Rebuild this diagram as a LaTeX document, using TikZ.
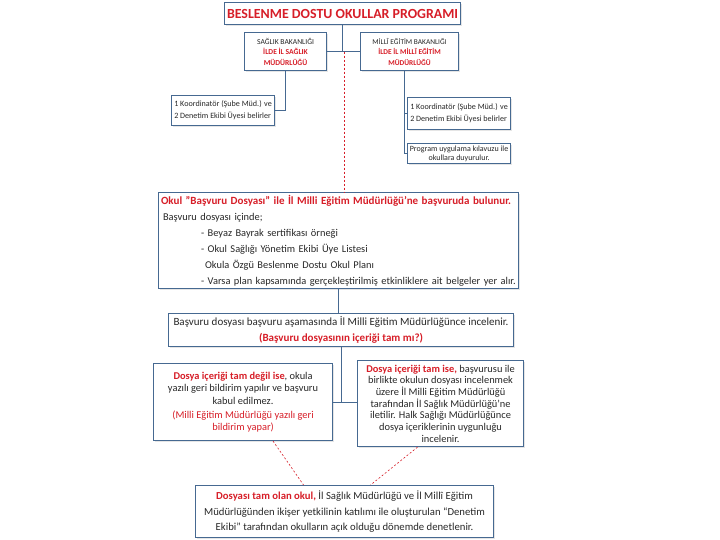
\documentclass[tikz,border=0pt]{standalone}
\usepackage{fontspec}
\setmainfont{Carlito}
\usetikzlibrary{shadows}
\definecolor{bdoBlue}{RGB}{70,105,145}
\definecolor{bdoRed}{RGB}{215,30,40}
\definecolor{bdoText}{RGB}{40,40,40}
\newcommand{\rd}[1]{\textcolor{bdoRed}{\textbf{#1}}}
\newcommand{\fs}[2]{\fontsize{#1}{#2}\selectfont}
\tikzset{
  box/.style={draw=bdoBlue, line width=1.1pt, fill=white, inner sep=2pt, text=bdoText,
    drop shadow={opacity=0.2, shadow xshift=1.2pt, shadow yshift=-1.2pt}},
  link/.style={draw=bdoBlue, line width=1.1pt},
  redlink/.style={draw=bdoRed, line width=0.6pt, dash pattern=on 2pt off 2pt},
}
\begin{document}
\begin{tikzpicture}[x=1pt,y=-1pt]
  \useasboundingbox[fill=white] (0,0) rectangle (720,540);

  \node[box, anchor=north west, minimum width=236, minimum height=22, font=\fs{13.9}{16}]
    (title) at (224,2) {\rd{BESLENME DOSTU OKULLAR PROGRAMI}};

  \node[box, anchor=north west, minimum width=82, minimum height=38, align=center, font=\fs{7.6}{10.5}]
    (sb) at (244,32) {SAĞLIK BAKANLIĞI\\\rd{İLDE İL SAĞLIK}\\\rd{MÜDÜRLÜĞÜ}};
  \node[box, anchor=north west, minimum width=98, minimum height=38, align=center, font=\fs{7.4}{10.5}]
    (meb) at (360,32) {MİLLÎ EĞİTİM BAKANLIĞI\\\rd{İLDE İL MİLLÎ EĞİTİM}\\\rd{MÜDÜRLÜĞÜ}};

  \node[box, anchor=north west, minimum width=103, minimum height=30, align=left, font=\fs{8.1}{12}]
    (sbk) at (171,95) {1 Koordinatör (Şube Müd.) ve\\2 Denetim Ekibi Üyesi belirler};
  \node[box, anchor=north west, minimum width=103, minimum height=32, align=left, font=\fs{8.1}{12}]
    (mk) at (407,97) {1 Koordinatör (Şube Müd.) ve\\2 Denetim Ekibi Üyesi belirler};
  \node[box, anchor=north west, minimum width=103, minimum height=20, align=center, font=\fs{8}{9}]
    (prg) at (407,143) {Program uygulama kılavuzu ile\\okullara duyurulur.};

  \node[box, anchor=north west, minimum width=360, minimum height=96, text width=355, align=left, font=\fs{10.4}{16}]
    (app) at (158,192) {{\fs{11}{16}\rd{Okul "Başvuru Dosyası" ile İl Milli Eğitim Müdürlüğü'ne başvuruda bulunur.}}\\
    \hspace*{2pt}Başvuru dosyası içinde;\\
    \hspace*{40pt}- Beyaz Bayrak sertifikası örneği\\
    \hspace*{40pt}- Okul Sağlığı Yönetim Ekibi Üye Listesi\\
    \hspace*{44pt}Okula Özgü Beslenme Dostu Okul Planı\\
    \hspace*{40pt}- Varsa plan kapsamında gerçekleştirilmiş etkinliklere ait belgeler yer alır.};

  \node[box, anchor=north west, minimum width=345, minimum height=33, align=center, font=\fs{11}{16}]
    (ins) at (168,313) {Başvuru dosyası başvuru aşamasında İl Milli Eğitim Müdürlüğünce incelenir.\\
    \rd{(Başvuru dosyasının içeriği tam mı?)}};

  \node[box, anchor=north west, minimum width=179, minimum height=77, align=center, font=\fs{10.4}{12.5}]
    (no) at (153,363) {\rd{Dosya içeriği tam değil ise}, okula\\yazılı geri bildirim yapılır ve başvuru\\kabul edilmez.\\[1.5pt]
    \textcolor{bdoRed}{(Milli Eğitim Müdürlüğü yazılı geri}\\\textcolor{bdoRed}{bildirim yapar)}};
  \node[box, anchor=north west, minimum width=166, minimum height=86, align=center, font=\fs{10.4}{11.7}]
    (yes) at (357,360) {\rd{Dosya içeriği tam ise,} başvurusu ile\\birlikte okulun dosyası incelenmek\\üzere İl Milli Eğitim Müdürlüğü\\
    tarafından İl Sağlık Müdürlüğü’ne\\iletilir. Halk Sağlığı Müdürlüğünce\\dosya içeriklerinin uygunluğu\\incelenir.};

  \node[box, anchor=north west, minimum width=298, minimum height=52, align=center, font=\fs{10.7}{15.5}]
    (fin) at (195,485) {\rd{Dosyası tam olan okul,} İl Sağlık Müdürlüğü ve İl Millî Eğitim\\
    Müdürlüğünden ikişer yetkilinin katılımı ile oluşturulan “Denetim\\
    Ekibi” tarafından okulların açık olduğu dönemde denetlenir.};

  % connectors
  \coordinate (jn) at (title.south |- sb.east);
  \draw[link] (title.south) -- (jn);
  \draw[link] (sb.east) -- (meb.west);
  \draw[redlink] ([xshift=1.5pt]jn) -- ([xshift=1.5pt]jn |- app.north);
  \draw[link] (sb.south) |- (sbk.east);
  \draw[link] ([xshift=-5pt]meb.south) |- (prg.west);
  \draw[link] ([xshift=-5pt]meb.south |- mk.west) -- (mk.west);
  \draw[link] (app.south) -- (app.south |- ins.north);
  \coordinate (jn2) at (ins.south |- no.east);
  \draw[link] (ins.south) -- (jn2);
  \draw[link] (no.east) -- (no.east -| yes.west);
  \draw[redlink] ([xshift=30pt]no.south) -- ([xshift=-41pt]fin.north);
  \draw[redlink] ([xshift=-23pt]yes.south) -- ([xshift=26pt]fin.north);
\end{tikzpicture}
\end{document}
